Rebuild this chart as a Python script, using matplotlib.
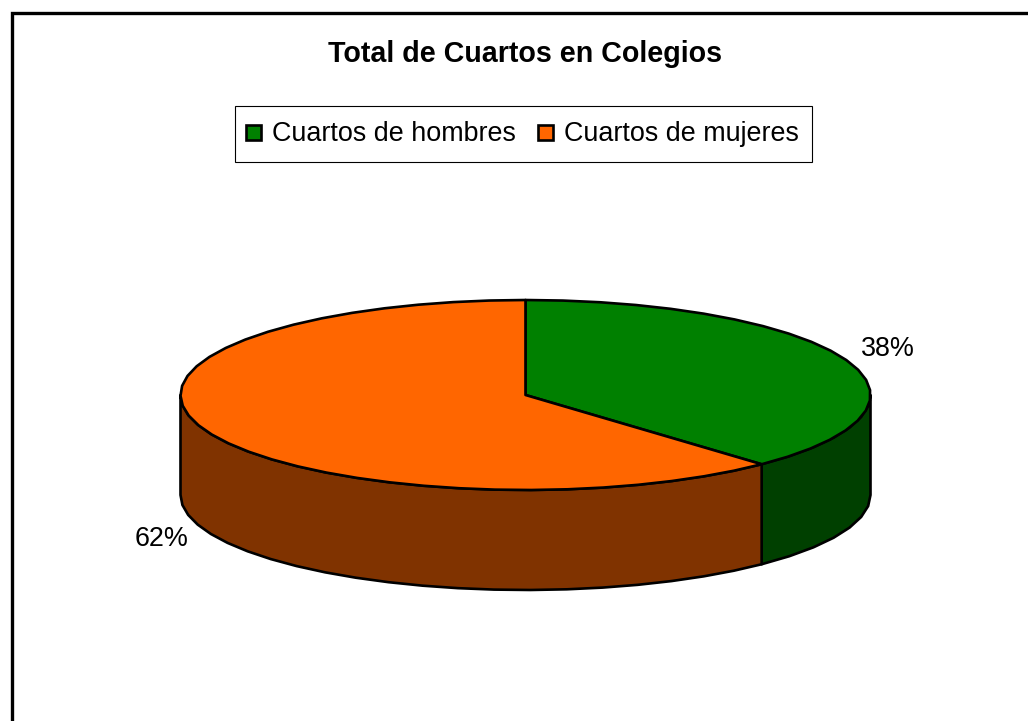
import numpy as np
import matplotlib
matplotlib.use("Agg")
from matplotlib import pyplot as plt
from matplotlib.patches import Polygon, Rectangle

titulo = "Total de Cuartos en Colegios"
categorias = ["Cuartos de hombres", "Cuartos de mujeres"]
valores = [38, 62]
etiquetas = ["38%", "62%"]
colores = ["#008000", "#FF6600"]
colores_lado = ["#004000", "#803300"]

plt.rcParams["font.family"] = ["Liberation Sans", "DejaVu Sans"]

# geometria del pastel en pixeles
cx, cy = 525.5, 395
rx, ry = 345, 95
alto = 100
LW = 1.9


def punto(ang):
    # ang en grados, horario desde arriba
    a = np.radians(ang)
    return cx + rx * np.sin(a), cy - ry * np.cos(a)


def arco(a1, a2):
    # pocos puntos: el contorno original se ve poligonal
    n = max(int((a2 - a1) / 6), 1) + 1
    angs = np.linspace(a1, a2, n)
    x, y = punto(angs)
    return np.column_stack([x, y])


fig = plt.figure(figsize=(10.28, 7.21), dpi=100)
ax = fig.add_axes([0, 0, 1, 1])
ax.set_xlim(0, 1028)
ax.set_ylim(721, 0)
ax.axis("off")

# marco (sin borde derecho ni inferior visibles)
ax.plot([12, 12, 1028], [721, 13, 13], color="black", lw=2.4, solid_joinstyle="miter")

ax.text(524.5, 53.5, titulo, ha="center", va="center", fontsize=20.6, fontweight="bold")

# leyenda
ax.add_patch(Rectangle((235, 106), 577, 56, fc="white", ec="black", lw=0.8))
ax.add_patch(Rectangle((246, 125), 15, 15, fc=colores[0], ec="black", lw=LW))
ax.text(272, 134, categorias[0], ha="left", va="center", fontsize=19.4)
ax.add_patch(Rectangle((538, 125), 15, 15, fc=colores[1], ec="black", lw=LW))
ax.text(564, 134, categorias[1], ha="left", va="center", fontsize=19.4)

# angulos de cada rebanada a partir de los valores
total = sum(valores)
cortes = np.cumsum([0] + valores) / total * 360

# lados: solo la mitad frontal del cilindro (90 a 270 grados)
for i in range(len(valores)):
    a1 = max(cortes[i], 90)
    a2 = min(cortes[i + 1], 270)
    if a1 < a2:
        borde = arco(a1, a2)
        abajo = borde[::-1] + [0, alto]
        ax.add_patch(Polygon(np.vstack([borde, abajo]), closed=True,
                             fc=colores_lado[i], ec="black", lw=LW, joinstyle="round"))

# tapa
for i in range(len(valores)):
    borde = arco(cortes[i], cortes[i + 1])
    ax.add_patch(Polygon(np.vstack([[cx, cy], borde]), closed=True,
                         fc=colores[i], ec="black", lw=LW, joinstyle="round"))

ax.text(888, 349.5, etiquetas[0], ha="center", va="center", fontsize=19.4)
ax.text(162, 539.5, etiquetas[1], ha="center", va="center", fontsize=19.4)

fig.savefig("out.png", dpi=100)
